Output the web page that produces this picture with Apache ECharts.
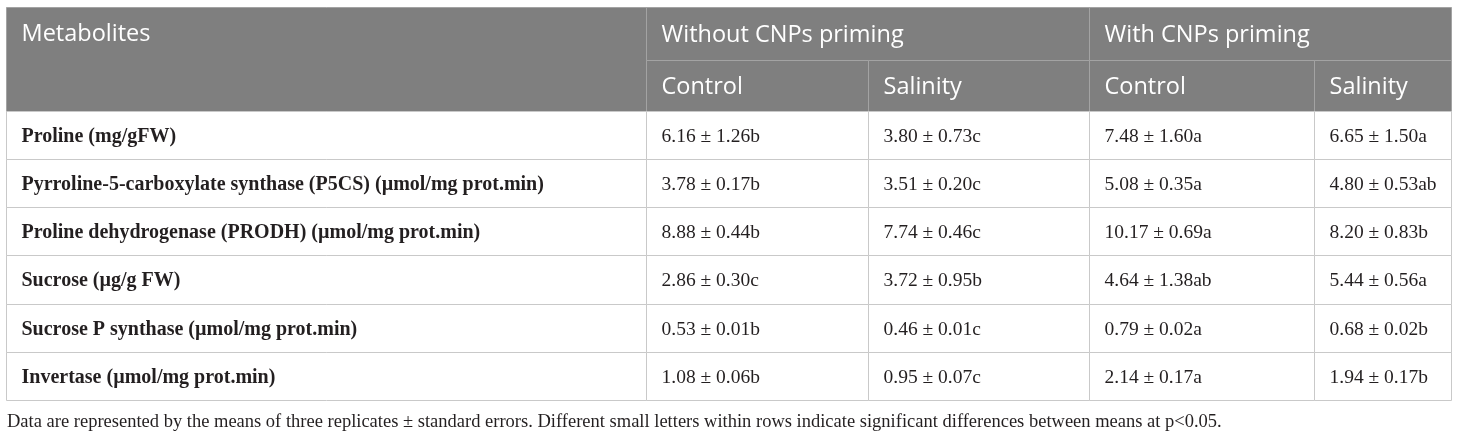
<!DOCTYPE html>
<html>
<head>
<meta charset="utf-8">
<script src="https://cdn.jsdelivr.net/npm/echarts@6/dist/echarts.min.js"></script>
<style>
  html, body { margin: 0; padding: 0; background: #fff; }
  #chart { width: 1460px; height: 438px; }
</style>
</head>
<body>
<div id="chart"></div>
<script>
// Datos de la tabla
const metabolites = [
  'Proline (mg/gFW)',
  'Pyrroline-5-carboxylate synthase (P5CS) (µmol/mg prot.min)',
  'Proline dehydrogenase (PRODH) (µmol/mg prot.min)',
  'Sucrose (µg/g FW)',
  'Sucrose P synthase (µmol/mg prot.min)',
  'Invertase (µmol/mg prot.min)'
];
const groups = ['Without CNPs priming', 'With CNPs priming'];
const treatments = ['Control', 'Salinity', 'Control', 'Salinity'];

const woControlMean = [6.16, 3.78, 8.88, 2.86, 0.53, 1.08];
const woControlSE = [1.26, 0.17, 0.44, 0.30, 0.01, 0.06];
const woControlSig = ['b', 'b', 'b', 'c', 'b', 'b'];

const woSalinityMean = [3.80, 3.51, 7.74, 3.72, 0.46, 0.95];
const woSalinitySE = [0.73, 0.20, 0.46, 0.95, 0.01, 0.07];
const woSalinitySig = ['c', 'c', 'c', 'b', 'c', 'c'];

const wControlMean = [7.48, 5.08, 10.17, 4.64, 0.79, 2.14];
const wControlSE = [1.60, 0.35, 0.69, 1.38, 0.02, 0.17];
const wControlSig = ['a', 'a', 'a', 'ab', 'a', 'a'];

const wSalinityMean = [6.65, 4.80, 8.20, 5.44, 0.68, 1.94];
const wSalinitySE = [1.50, 0.53, 0.83, 0.56, 0.02, 0.17];
const wSalinitySig = ['a', 'ab', 'b', 'a', 'b', 'b'];

const footnote = 'Data are represented by the means of three replicates ± standard errors. Different small letters within rows indicate significant differences between means at p<0.05.';

// Disposición (unidades del eje)
const colEdges = [0, 640, 862, 1083, 1308, 1445];
const headEdges = [0, 52.5, 103.5];
const rowH = 48.25;
const tableH = headEdges[2] + rowH * metabolites.length;

const valueCols = [
  [woControlMean, woControlSE, woControlSig],
  [woSalinityMean, woSalinitySE, woSalinitySig],
  [wControlMean, wControlSE, wControlSig],
  [wSalinityMean, wSalinitySE, wSalinitySig]
];

// Construir las celdas
const cells = [];
cells.push({ x0: colEdges[0], x1: colEdges[1], y0: headEdges[0], y1: headEdges[2], ty: headEdges[1] / 2, text: 'Metabolites', kind: 'head' });
cells.push({ x0: colEdges[1], x1: colEdges[3], y0: headEdges[0], y1: headEdges[1], text: groups[0], kind: 'head' });
cells.push({ x0: colEdges[3], x1: colEdges[5], y0: headEdges[0], y1: headEdges[1], text: groups[1], kind: 'head' });
treatments.forEach((t, j) => {
  cells.push({ x0: colEdges[j + 1], x1: colEdges[j + 2], y0: headEdges[1], y1: headEdges[2], text: t, kind: 'head' });
});
metabolites.forEach((m, i) => {
  const y0 = headEdges[2] + rowH * i;
  const y1 = y0 + rowH;
  cells.push({ x0: colEdges[0], x1: colEdges[1], y0, y1, text: m, kind: 'label' });
  valueCols.forEach(([mean, se, sig], j) => {
    const txt = mean[i].toFixed(2) + ' ± ' + se[i].toFixed(2) + sig[i];
    cells.push({ x0: colEdges[j + 1], x1: colEdges[j + 2], y0, y1, text: txt, kind: 'value' });
  });
});

const chart = echarts.init(document.getElementById('chart'), null, { renderer: 'canvas' });

function renderCell(params, api) {
  const c = cells[params.dataIndex];
  const p0 = api.coord([c.x0, c.y0]);
  const p1 = api.coord([c.x1, c.y1]);
  const x = Math.round(p0[0]) + 0.5;
  const y = Math.round(p0[1]) + 0.5;
  const w = Math.round(p1[0]) - Math.round(p0[0]);
  const h = Math.round(p1[1]) - Math.round(p0[1]);
  const ty = c.ty != null ? api.coord([c.x0, c.ty])[1] : y + h / 2;
  const head = c.kind === 'head';
  let font;
  if (head) font = '23.5px "Open Sans"';
  else if (c.kind === 'label') font = 'bold 20px "Liberation Serif"';
  else font = '19.5px "Liberation Serif"';
  return {
    type: 'group',
    children: [
      {
        type: 'rect',
        shape: { x, y, width: w, height: h },
        style: {
          fill: head ? '#7f7f7f' : '#ffffff',
          stroke: head ? '#a3a3a3' : '#c9c9c9',
          lineWidth: 1
        }
      },
      {
        type: 'text',
        style: {
          text: c.text,
          x: x + 15,
          y: ty + 1,
          align: 'left',
          verticalAlign: 'middle',
          font,
          fill: head ? '#ffffff' : '#231f20'
        }
      }
    ]
  };
}

const option = {
  animation: false,
  title: {
    text: footnote,
    left: 2,
    top: 408,
    textStyle: {
      fontFamily: 'Liberation Serif',
      fontSize: 18.5,
      fontWeight: 'normal',
      color: '#231f20'
    }
  },
  grid: { left: 6, top: 7, width: 1445, height: tableH },
  xAxis: { type: 'value', min: colEdges[0], max: colEdges[5], show: false },
  yAxis: { type: 'value', min: 0, max: tableH, inverse: true, show: false },
  series: [
    {
      type: 'custom',
      renderItem: renderCell,
      data: cells.map(c => [c.x0, c.y0, c.x1, c.y1]),
      encode: { x: [0, 2], y: [1, 3] },
      clip: false,
      silent: true
    }
  ]
};

chart.setOption(option);
</script>
</body>
</html>
